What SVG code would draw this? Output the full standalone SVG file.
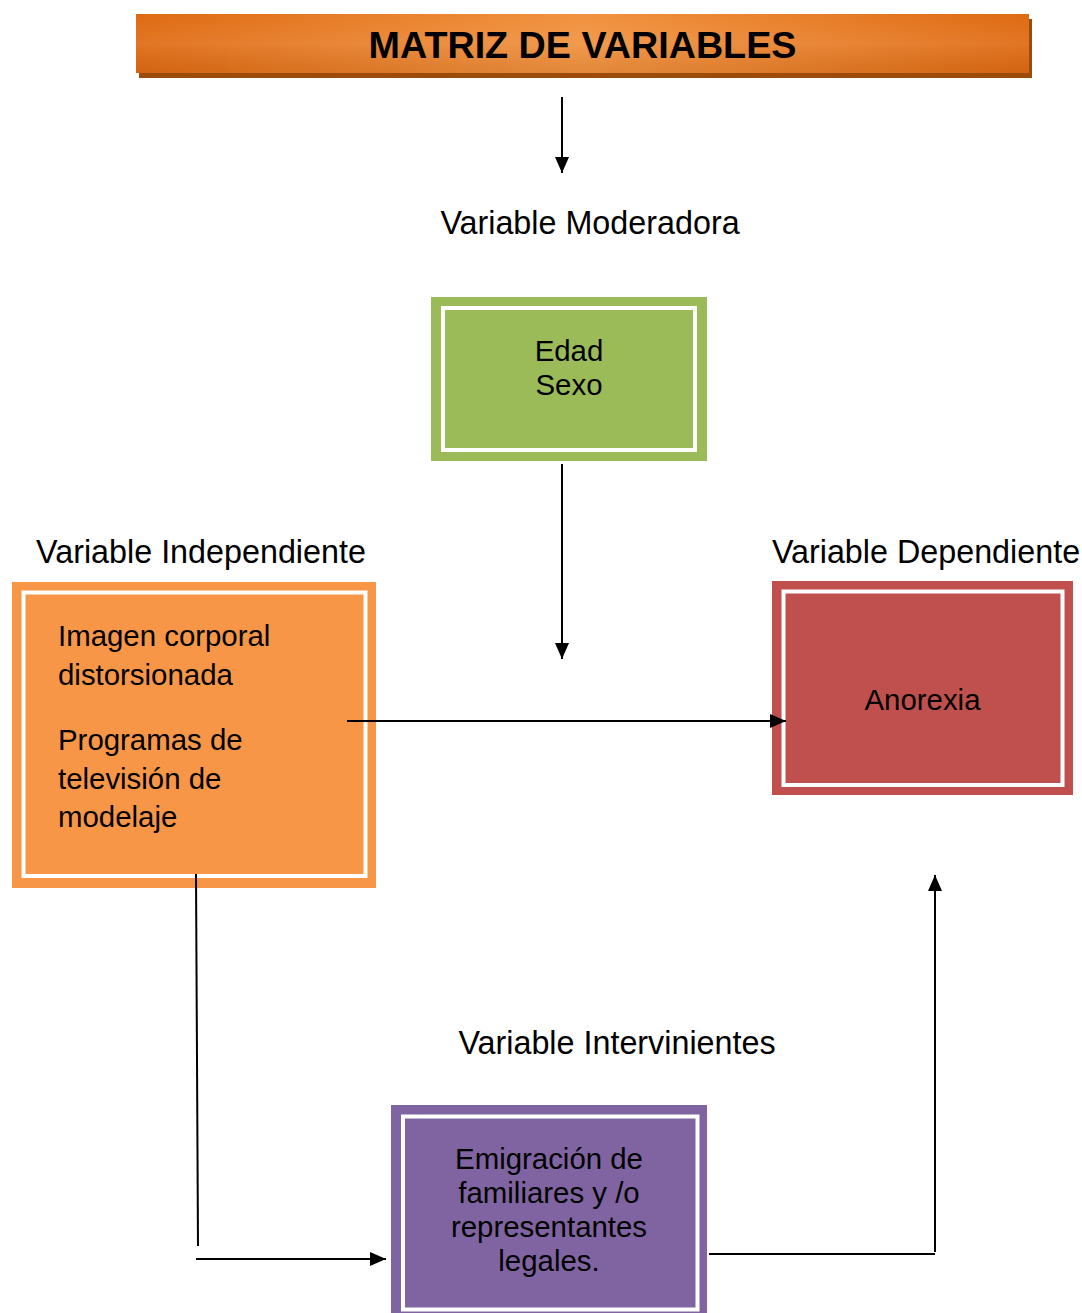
<svg xmlns="http://www.w3.org/2000/svg" width="1082" height="1313" viewBox="0 0 1082 1313">
<defs>
<linearGradient id="gh" x1="0" y1="0" x2="1" y2="0">
<stop offset="0" stop-color="#DF6A12"/>
<stop offset="0.5" stop-color="#F1923F"/>
<stop offset="1" stop-color="#DF6A12"/>
</linearGradient>
<linearGradient id="gv" x1="0" y1="0" x2="0" y2="1">
<stop offset="0" stop-color="#ffffff" stop-opacity="0"/>
<stop offset="0.5" stop-color="#ffffff" stop-opacity="0.08"/>
<stop offset="1" stop-color="#000000" stop-opacity="0.06"/>
</linearGradient>
<marker id="ah" viewBox="0 0 16 14" refX="16" refY="7" markerWidth="16" markerHeight="14" markerUnits="userSpaceOnUse" orient="auto">
<path d="M0,0 L16,7 L0,14 Z" fill="#000"/>
</marker>
</defs>
<style>
.t{font-family:"Liberation Sans",Arial,sans-serif;fill:#000}
.lbl{font-size:32.3px}
.in{font-size:29.4px}
.inner{fill:none;stroke:#fff;stroke-width:4}
.c{fill:none;stroke:#000;stroke-width:2}
</style>
<rect width="1082" height="1313" fill="#fff"/>
<g id="title">
<rect x="139" y="19" width="893" height="59" fill="#9C4B0B"/>
<rect x="136" y="14" width="893" height="59" fill="url(#gh)"/>
<rect x="136" y="14" width="893" height="59" fill="url(#gv)"/>
<text class="t" x="582.5" y="58" font-size="37.7" font-weight="bold" text-anchor="middle">MATRIZ DE VARIABLES</text>
</g>
<g id="label-moderadora"><text class="t lbl" x="590" y="234" text-anchor="middle">Variable Moderadora</text></g>
<g id="label-independiente"><text class="t lbl" x="201" y="563" text-anchor="middle">Variable Independiente</text></g>
<g id="label-dependiente"><text class="t lbl" x="926" y="563" text-anchor="middle">Variable Dependiente</text></g>
<g id="label-intervinientes"><text class="t lbl" x="617" y="1054" text-anchor="middle">Variable Intervinientes</text></g>
<g id="node-moderadora">
<rect x="431" y="297" width="276" height="164" fill="#9BBB59"/>
<rect class="inner" x="443" y="308" width="252" height="142"/>
<text class="t in" x="569" y="361" text-anchor="middle">Edad</text>
<text class="t in" x="569" y="395" text-anchor="middle">Sexo</text>
</g>
<g id="node-independiente">
<rect x="12" y="582" width="364" height="306" fill="#F79646"/>
<rect class="inner" x="23.5" y="592.5" width="342" height="283.5"/>
<text class="t in" x="58" y="646">Imagen corporal</text>
<text class="t in" x="58" y="685">distorsionada</text>
<text class="t in" x="58" y="750">Programas de</text>
<text class="t in" x="58" y="789">televisión de</text>
<text class="t in" x="58" y="827">modelaje</text>
</g>
<g id="node-dependiente">
<rect x="772" y="581" width="301" height="214" fill="#C0504D"/>
<rect class="inner" x="783.5" y="591.5" width="279" height="193.5"/>
<text class="t in" x="922.5" y="710" text-anchor="middle">Anorexia</text>
</g>
<g id="node-intervinientes">
<rect x="391" y="1105" width="316" height="212" fill="#8064A2"/>
<rect class="inner" x="403" y="1116.5" width="294.5" height="193"/>
<text class="t in" x="549" y="1169" text-anchor="middle">Emigración de</text>
<text class="t in" x="549" y="1203" text-anchor="middle">familiares y /o</text>
<text class="t in" x="549" y="1237" text-anchor="middle">representantes</text>
<text class="t in" x="549" y="1271" text-anchor="middle">legales.</text>
</g>
<g id="connectors">
<line class="c" x1="562" y1="97" x2="562" y2="173" marker-end="url(#ah)"/>
<line class="c" x1="562" y1="464" x2="562" y2="659" marker-end="url(#ah)"/>
<line class="c" x1="347" y1="721" x2="786" y2="721" marker-end="url(#ah)"/>
<line class="c" x1="196" y1="874" x2="198" y2="1246"/>
<line class="c" x1="196" y1="1259" x2="386" y2="1259" marker-end="url(#ah)"/>
<line class="c" x1="709" y1="1254" x2="935" y2="1254"/>
<line class="c" x1="935" y1="1252" x2="935" y2="875" marker-end="url(#ah)"/>
</g>
</svg>
